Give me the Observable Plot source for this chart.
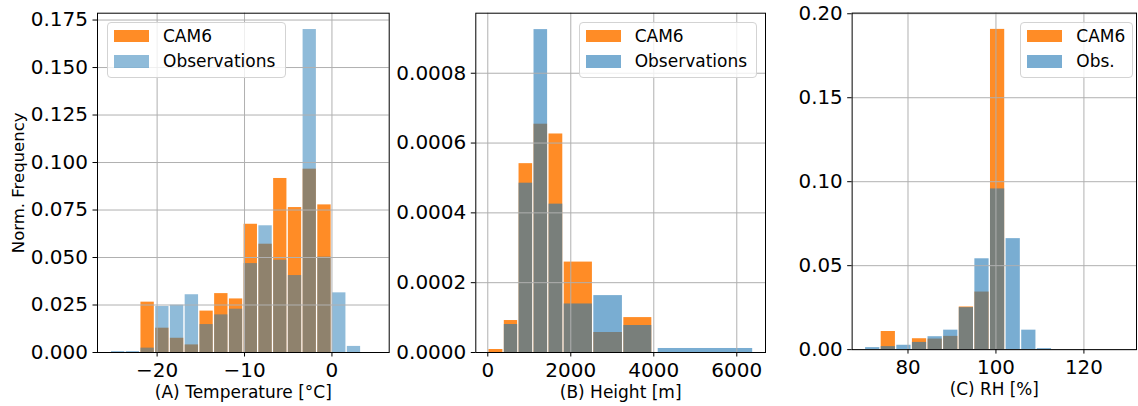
<!DOCTYPE html>
<html>
<head>
<meta charset="utf-8">
<script src="https://cdn.jsdelivr.net/npm/d3@7"></script>
<script src="https://cdn.jsdelivr.net/npm/@observablehq/plot@0.6"></script>
<style>
  html, body { margin: 0; padding: 0; background: #fff; overflow: hidden; }
  #wrap { position: relative; width: 1138px; height: 406px; overflow: hidden; font-family: "DejaVu Sans", sans-serif; }
  .panel { position: absolute; top: 0; }
  .legend { position: absolute; box-sizing: border-box; background: rgba(255,255,255,0.8); border: 1px solid #d3d3d3; border-radius: 4px; }
  .legend .sw { position: absolute; width: 35px; height: 12.5px; }
  .legend .lb { position: absolute; font-size: 17px; line-height: 17px; color: #000; white-space: nowrap; }
</style>
</head>
<body>
<div id="wrap"></div>
<script>
// ---------------- data ----------------
const seriesNames = ["CAM6", "Observations"];

// (A) Temperature [°C]  — bin edges and normalized frequencies
const tempBinEdges = [-25.30, -23.61, -21.93, -20.24, -18.56, -16.87, -15.18, -13.50, -11.81, -10.13,
                      -8.44, -6.75, -5.07, -3.38, -1.70, -0.01, 1.68, 3.36, 5.05];
const tempCAM6 = [0, 0, 0.0265, 0.0128, 0.0075, 0.0040, 0.0218, 0.0310, 0.0282, 0.0675,
                  0.0570, 0.0916, 0.0763, 0.0965, 0.0777, 0, 0, 0];
const tempObs  = [0.0005, 0.0005, 0.0023, 0.0242, 0.0249, 0.0304, 0.0147, 0.0198, 0.0228, 0.0468,
                  0.0667, 0.0486, 0.0405, 0.1700, 0.0502, 0.0314, 0.0032, 0];

// (B) Height [m]
const heightBinStart = [10, 381, 736, 1097, 1458, 1824, 2538, 3261, 4090];
const heightBinEnd   = [381, 736, 1097, 1458, 1824, 2538, 3261, 3970, 6400];
const heightCAM6 = [0.0000086, 0.0000916, 0.000541, 0.000654, 0.000626, 0.000259, 0.0000573, 0.000100, 0];
const heightObs  = [0, 0.0000802, 0.000485, 0.000925, 0.000425, 0.000139, 0.000163, 0.0000773, 0.0000115];

// (C) RH [%]
const rhBinEdges = [70.2, 73.75, 77.3, 80.85, 84.4, 87.95, 91.5, 95.05, 98.6, 102.15, 105.7, 109.25, 112.8];
const rhCAM6 = [0, 0.0108, 0, 0.0065, 0.0063, 0.0079, 0.0254, 0.0343, 0.1907, 0, 0, 0];
const rhObs  = [0.0012, 0.0018, 0.0026, 0.0043, 0.0077, 0.0116, 0.0250, 0.0541, 0.0957, 0.0661, 0.0116, 0.0006];

// ticks
const tempXTicks = [-20, -10, 0];
const tempYTicks = [0, 0.025, 0.05, 0.075, 0.1, 0.125, 0.15, 0.175];
const heightXTicks = [0, 2000, 4000, 6000];
const heightYTicks = [0, 0.0002, 0.0004, 0.0006, 0.0008];
const rhXTicks = [80, 100, 120];
const rhYTicks = [0, 0.05, 0.1, 0.15, 0.2];

// ---------------- drawing ----------------
const ORANGE = "#ff7f0e", BLUE = "#1f77b4";
const wrap = document.getElementById("wrap");

function rows(starts, ends, vals) {
  return vals.map((v, i) => ({x1: starts[i], x2: ends[i], v})).filter(d => d.v > 0);
}

function panel(o) {
  const div = document.createElement("div");
  div.className = "panel";
  div.style.left = o.left + "px";
  const grid = {stroke: "#b0b0b0", strokeOpacity: 1, strokeWidth: 1};
  const marks = [
    Plot.rectY(rows(o.starts, o.ends, o.cam), {x1: "x1", x2: "x2", y: "v", fill: ORANGE, fillOpacity: 0.9, insetLeft: 0.7, insetRight: 0.7}),
    Plot.rectY(rows(o.starts, o.ends, o.obs), {x1: "x1", x2: "x2", y: "v", fill: BLUE, fillOpacity: o.obsOpacity, insetLeft: 0.7, insetRight: 0.7}),
    Plot.gridX(o.xTicks, grid),
    Plot.gridY(o.yTicks, grid),
    Plot.axisX(o.xTicks, {tickSize: 4.5, tickPadding: 5.5, tickFormat: o.xFmt, label: null, stroke: "#000"}),
    Plot.axisY(o.yTicks, {tickSize: 4.5, tickPadding: 5, tickFormat: o.yFmt, label: null, stroke: "#000"}),
    Plot.frame({stroke: "#000", strokeWidth: 1}),
    Plot.text([o.xLabel], {frameAnchor: "bottom", dy: 40, lineAnchor: "middle", textAnchor: "middle", fontSize: 17, fill: "#000"})
  ];
  if (o.yLabel) {
    marks.push(Plot.text([o.yLabel], {frameAnchor: "left", dx: -79, rotate: -90, lineAnchor: "middle", textAnchor: "middle", fontSize: 16.5, fill: "#000"}));
  }
  const chart = Plot.plot({
    width: o.width, height: 406,
    marginLeft: o.mL, marginRight: o.mR, marginTop: 12.7, marginBottom: 54,
    x: {domain: o.xDomain},
    y: {domain: o.yDomain},
    style: {fontFamily: "DejaVu Sans", fontSize: "20px", color: "#000", background: "transparent", overflow: "visible"},
    marks
  });
  div.appendChild(chart);
  wrap.appendChild(div);
}

function legend(left, width, labels) {
  const box = document.createElement("div");
  box.className = "legend";
  box.style.left = left + "px";
  box.style.top = "22px";
  box.style.width = width + "px";
  box.style.height = "56px";
  const cols = [ORANGE, BLUE];
  const ops = [0.9, labels.opacity];
  labels.names.forEach((name, i) => {
    const sw = document.createElement("div");
    sw.className = "sw";
    sw.style.left = "6px";
    sw.style.top = (6.5 + i * 25.7) + "px";
    sw.style.background = cols[i];
    sw.style.opacity = ops[i];
    const lb = document.createElement("div");
    lb.className = "lb";
    lb.style.left = "55px";
    lb.style.top = (4.5 + i * 25.7) + "px";
    lb.textContent = name;
    box.appendChild(sw);
    box.appendChild(lb);
  });
  wrap.appendChild(box);
}

panel({
  left: 0, width: 395, mL: 97, mR: 6.3,
  xDomain: [-26.82, 6.55], yDomain: [0, 0.1786],
  starts: tempBinEdges.slice(0, -1), ends: tempBinEdges.slice(1),
  cam: tempCAM6, obs: tempObs, obsOpacity: 0.5,
  xTicks: tempXTicks, yTicks: tempYTicks,
  xFmt: d3.format("d"), yFmt: d3.format(".3f"),
  xLabel: "(A) Temperature [°C]", yLabel: "Norm. Frequency"
});
panel({
  left: 395, width: 375, mL: 80.3, mR: 5,
  xDomain: [-289, 6692], yDomain: [0, 0.000972],
  starts: heightBinStart, ends: heightBinEnd,
  cam: heightCAM6, obs: heightObs, obsOpacity: 0.6,
  xTicks: heightXTicks, yTicks: heightYTicks,
  xFmt: d3.format("d"), yFmt: d3.format(".4f"),
  xLabel: "(B) Height [m]"
});
panel({
  left: 770, width: 371, mL: 82.3, mR: 2,
  xDomain: [67.3, 131.96], yDomain: [0, 0.2004],
  starts: rhBinEdges.slice(0, -1), ends: rhBinEdges.slice(1),
  cam: rhCAM6, obs: rhObs, obsOpacity: 0.6,
  xTicks: rhXTicks, yTicks: rhYTicks,
  xFmt: d3.format("d"), yFmt: d3.format(".2f"),
  xLabel: "(C) RH [%]"
});

legend(107, 179, {names: ["CAM6", "Observations"], opacity: 0.5});
legend(578.7, 178, {names: ["CAM6", "Observations"], opacity: 0.6});
legend(1020.3, 113, {names: ["CAM6", "Obs."], opacity: 0.6});
</script>
</body>
</html>
